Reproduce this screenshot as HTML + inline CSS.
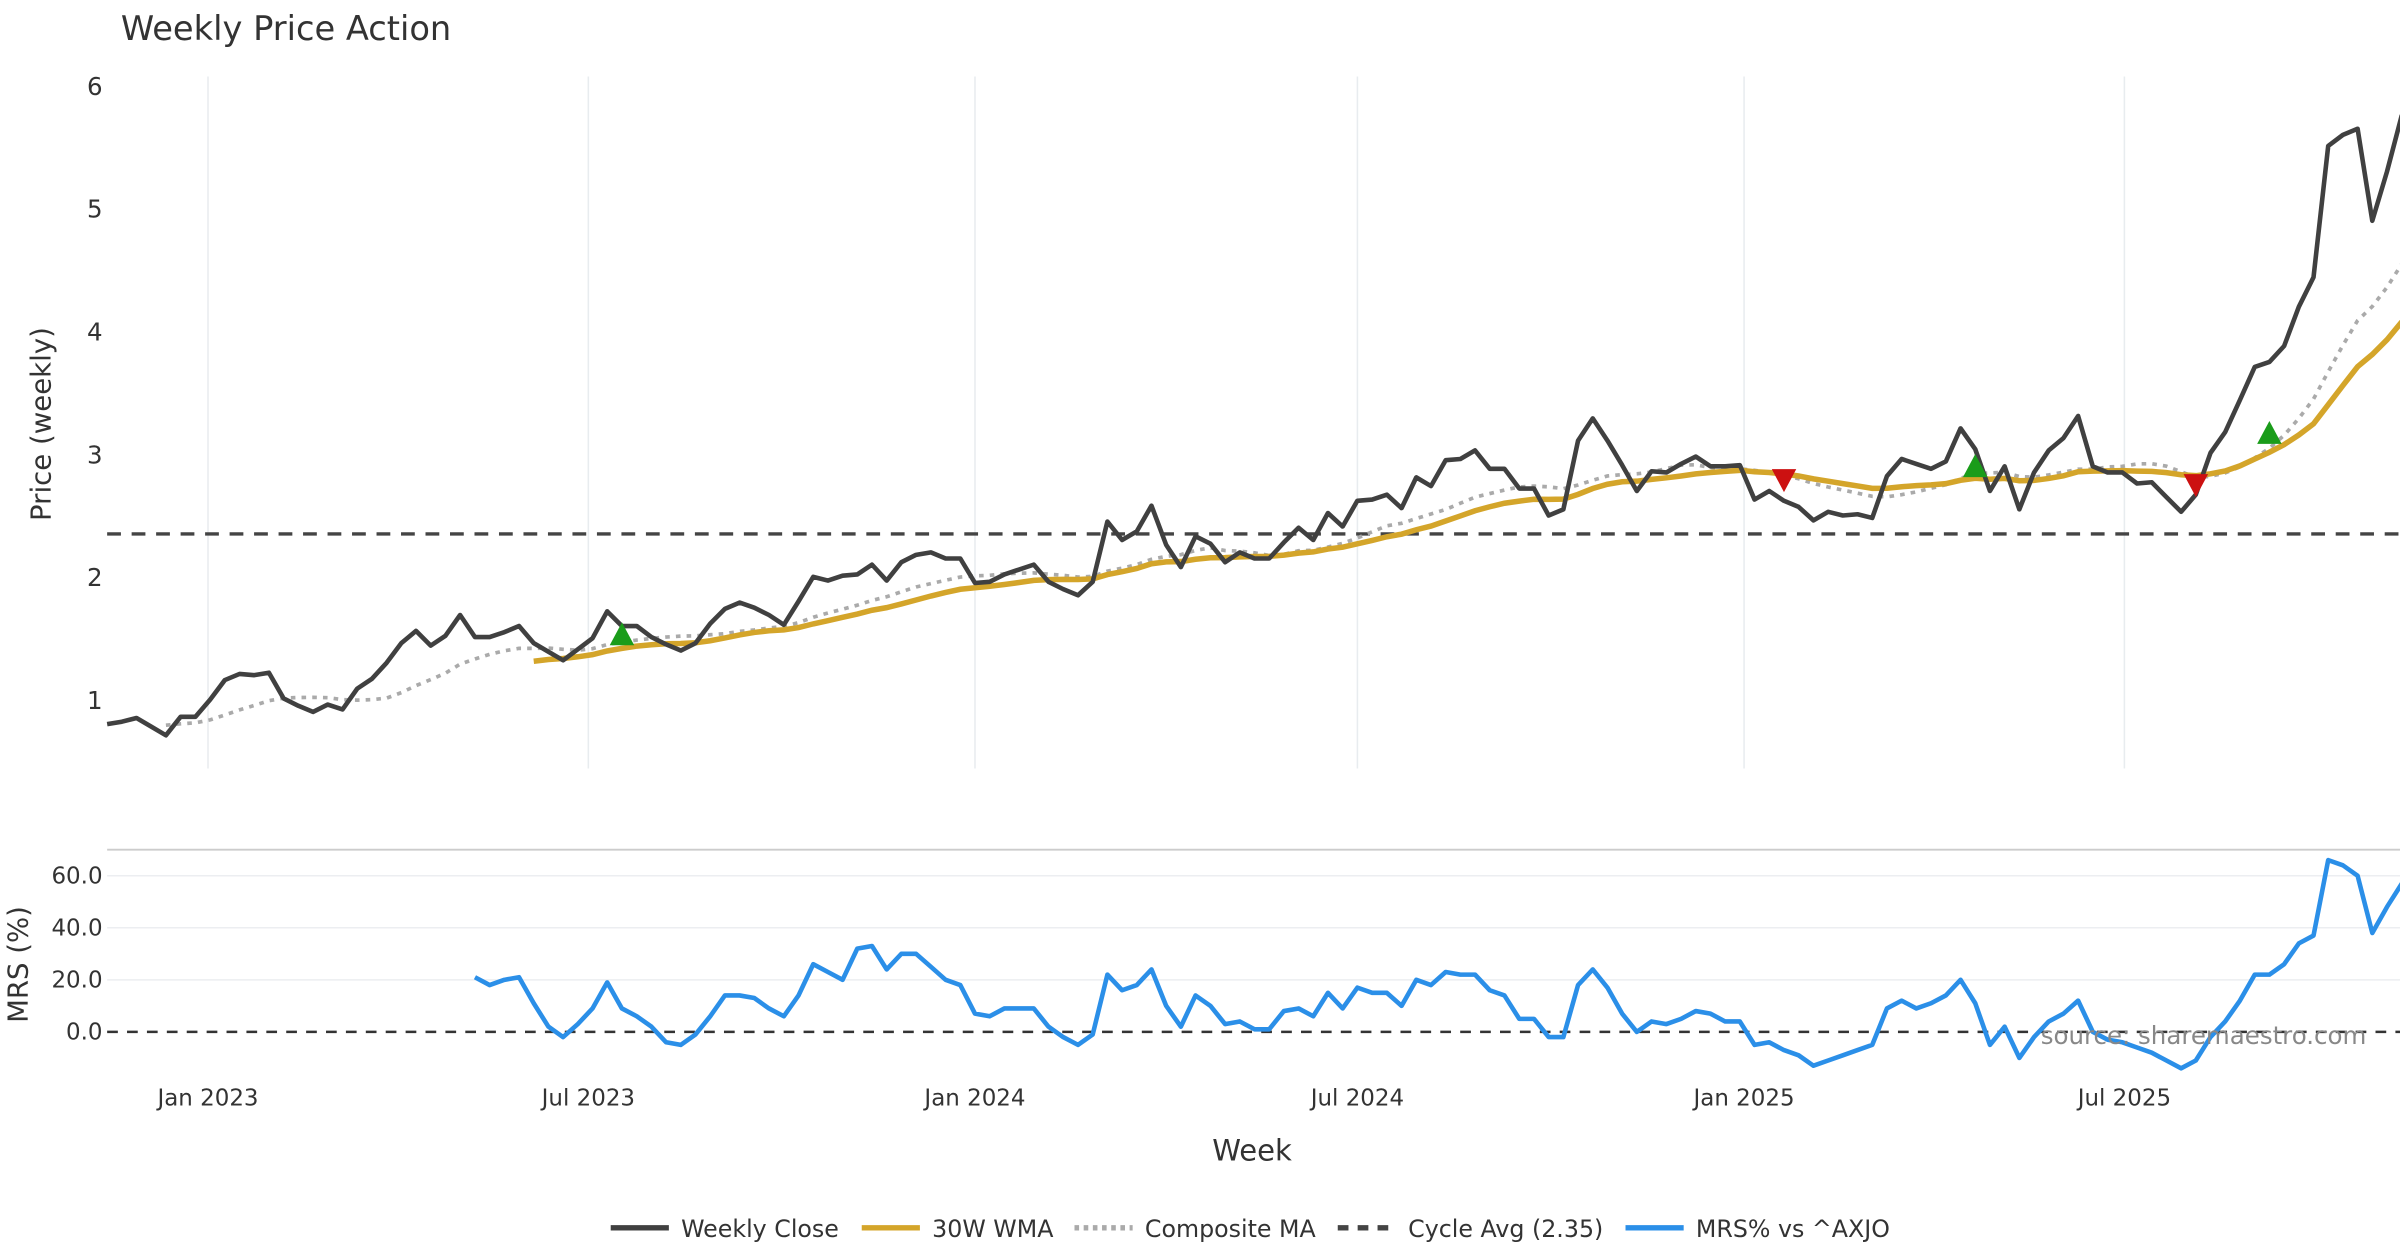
<!DOCTYPE html>
<html><head><meta charset="utf-8"><style>
html,body{margin:0;padding:0;background:#fff;}
svg{display:block;font-family:"DejaVu Sans","Liberation Sans",sans-serif;}
</style></head><body>
<svg id="chart" width="2400" height="1260" viewBox="0 0 1568 823" preserveAspectRatio="none" xmlns="http://www.w3.org/2000/svg">
<text x="79" y="26" font-size="22" fill="#333">Weekly Price Action</text>
<g id="pricePanel"></g>
<g id="mrsPanel"></g>
<text transform="translate(33,277) rotate(-90)" text-anchor="middle" font-size="18" fill="#333">Price (weekly)</text>
<text transform="translate(18,630) rotate(-90)" text-anchor="middle" font-size="18" fill="#333">MRS (%)</text>
<text x="818" y="758" text-anchor="middle" font-size="19" fill="#333">Week</text>
<text x="1546" y="682" text-anchor="end" font-size="16" fill="#888">source: sharemaestro.com</text>
<g id="legend"></g>
</svg>
<script>
const startDate = new Date(Date.UTC(2022,10,14));
const closeValues = [0.80,0.82,0.85,0.78,0.71,0.86,0.86,1.00,1.16,1.21,1.20,
1.22,1.01,0.95,0.90,0.96,0.92,1.09,1.17,1.30,1.46,
1.56,1.44,1.52,1.69,1.51,1.51,1.55,1.60,1.46,1.39,
1.32,1.41,1.50,1.72,1.60,1.60,1.51,1.45,1.40,1.46,
1.62,1.74,1.79,1.75,1.69,1.61,1.80,2.00,1.97,2.01,
2.02,2.10,1.97,2.12,2.18,2.20,2.15,2.15,1.95,1.96,
2.02,2.06,2.10,1.96,1.90,1.85,1.96,2.45,2.30,2.37,
2.58,2.26,2.08,2.33,2.27,2.12,2.20,2.15,2.15,2.28,
2.40,2.30,2.52,2.41,2.62,2.63,2.67,2.56,2.81,2.74,
2.95,2.96,3.03,2.88,2.88,2.72,2.72,2.50,2.55,3.11,
3.29,3.11,2.91,2.70,2.86,2.85,2.92,2.98,2.90,2.90,
2.91,2.63,2.70,2.62,2.57,2.46,2.53,2.50,2.51,2.48,
2.82,2.96,2.92,2.88,2.94,3.21,3.04,2.70,2.90,2.55,
2.85,3.03,3.13,3.31,2.90,2.85,2.85,2.76,2.77,2.65,
2.53,2.67,3.01,3.18,3.44,3.71,3.75,3.88,4.20,4.44,
5.51,5.60,5.65,4.90,5.30,5.76];
const mrsStart = 25;
const mrsValues = [21,18,20,21,11,2,-2,3,9,19,
9,6,2,-4,-5,-1,6,14,14,13,
9,6,14,26,23,20,32,33,24,30,
30,25,20,18,7,6,9,9,9,2,
-2,-5,-1,22,16,18,24,10,2,14,
10,3,4,1,1,8,9,6,15,9,
17,15,15,10,20,18,23,22,22,16,
14,5,5,-2,-2,18,24,17,7,0,
4,3,5,8,7,4,4,-5,-4,-7,
-9,-13,-11,-9,-7,-5,9,12,9,11,
14,20,11,-5,2,-10,-2,4,7,12,
0,-3,-4,-6,-8,-11,-14,-11,-2,4,
12,22,22,26,34,37,66,64,60,38,
48,57];
const cycleAvg = 2.35;
const buyIdx = [35,127,147];
const buyPrice = [1.53,2.90,3.17];
const sellIdx = [114,142];
const sellPrice = [2.79,2.75];
const priceTicks = [1,2,3,4,5,6];
const mrsTicks = [0,20,40,60];
const dateTicks = ["2023-01-01","2023-07-01","2024-01-01","2024-07-01","2025-01-01","2025-07-01"];
const dateTickLabels = ["Jan 2023","Jul 2023","Jan 2024","Jul 2024","Jan 2025","Jul 2025"];

const NS="http://www.w3.org/2000/svg";
const X0=70, XR=1568, STEP=9.61;
function xIdx(i){return X0+i*STEP;}
function xDate(s){const d=new Date(s+"T00:00:00Z");return xIdx((d-startDate)/(7*864e5));}
function yP(v){return 457-(v-1)*80.2;}
function yM(v){return 674-v*1.7;}
function mk(tag,attrs,parent){const e=document.createElementNS(NS,tag);for(const k in attrs)e.setAttribute(k,attrs[k]);parent.appendChild(e);return e;}
function pathOf(pts){return pts.map((p,i)=>(i?"L":"M")+p[0].toFixed(1)+","+p[1].toFixed(1)).join("");}

const pp=document.getElementById("pricePanel");
const mp=document.getElementById("mrsPanel");
const lg=document.getElementById("legend");

const nClose=closeValues.length;
const wma=[];for(let i=0;i<nClose;i++){if(i<29){wma.push(null);continue;}let s=0,w=0;for(let k=0;k<30;k++){const wt=30-k;s+=closeValues[i-k]*wt;w+=wt;}wma.push(s/w);}
function sma(i,len){const a=Math.max(0,i-len+1);let s=0;for(let k=a;k<=i;k++)s+=closeValues[k];return s/(i-a+1);}
const comp=[];for(let i=0;i<nClose;i++){comp.push(i<4?null:(sma(i,8)+sma(i,20))/2);}

dateTicks.forEach((d,j)=>{const x=xDate(d);
 let g=mk("line",{x1:x,x2:x,y1:50,y2:502,stroke:"#e8ecef","stroke-width":1},pp);
 
 
 let t=mk("text",{x:x,y:722,"text-anchor":"middle","font-size":15,fill:"#333"},mp);t.textContent=dateTickLabels[j];
 
 
});
priceTicks.forEach(v=>{let t=mk("text",{x:67,y:yP(v)+6,"text-anchor":"end","font-size":16,fill:"#333"},pp);t.textContent=v;
 
 });

let cl=mk("line",{x1:X0,x2:XR,y1:yP(cycleAvg),y2:yP(cycleAvg),stroke:"#444","stroke-width":2.2,"stroke-dasharray":"9,7"},pp);



let cp=mk("path",{d:pathOf(comp.map((v,i)=>v==null?null:[xIdx(i),yP(v)]).filter(Boolean)),fill:"none",stroke:"#aaa","stroke-width":2.4,"stroke-dasharray":"3,4"},pp);


let wp=mk("path",{d:pathOf(wma.map((v,i)=>v==null?null:[xIdx(i),yP(v)]).filter(Boolean)),fill:"none",stroke:"#d4a52a","stroke-width":3.6},pp);


let cpl=mk("path",{d:pathOf(closeValues.map((v,i)=>[xIdx(i),yP(v)])),fill:"none",stroke:"#404040","stroke-width":3,"stroke-linejoin":"round"},pp);



buyIdx.forEach((b,j)=>{const x=xIdx(b),y=yP(buyPrice[j]);
 let m=mk("polygon",{points:`${x-8},${y+7} ${x+8},${y+7} ${x},${y-8}`,fill:"#1a9c1a"},pp);
 
 });
sellIdx.forEach((b,j)=>{const x=xIdx(b),y=yP(sellPrice[j]);
 let m=mk("polygon",{points:`${x-8},${y-7} ${x+8},${y-7} ${x},${y+8}`,fill:"#cc1111"},pp);
 
 });

let divider=mk("line",{x1:X0,x2:XR,y1:555,y2:555,stroke:"#ccc","stroke-width":1.2},mp);


mrsTicks.forEach(v=>{
 if(v!==0){let g=mk("line",{x1:X0,x2:XR,y1:yM(v),y2:yM(v),stroke:"#eceef1","stroke-width":1},mp);
 
 }
 let t=mk("text",{x:67,y:yM(v)+5,"text-anchor":"end","font-size":15,fill:"#333"},mp);t.textContent=v.toFixed(1);
 
 });
let zl=mk("line",{x1:X0,x2:XR,y1:yM(0),y2:yM(0),stroke:"#333","stroke-width":1.6,"stroke-dasharray":"7,6"},mp);


let ml=mk("path",{d:pathOf(mrsValues.map((v,i)=>[xIdx(i+mrsStart),yM(v)])),fill:"none",stroke:"#2b8fe8","stroke-width":3,"stroke-linejoin":"round"},mp);



const legItems=[["Weekly Close","#404040","",399],["30W WMA","#d4a52a","",563],["Composite MA","#aaa","3,3",702],["Cycle Avg (2.35)","#444","7,6",874],["MRS% vs ^AXJO","#2b8fe8","",1062]];
legItems.forEach(it=>{const x=it[3];
 let l=mk("line",{x1:x,x2:x+38,y1:802,y2:802,stroke:it[1],"stroke-width":3.5,"stroke-dasharray":it[2]},lg);
 
 
 let t=mk("text",{x:x+46,y:808,"font-size":15.5,fill:"#333"},lg);t.textContent=it[0];
 
 });
</script>
</body></html>
